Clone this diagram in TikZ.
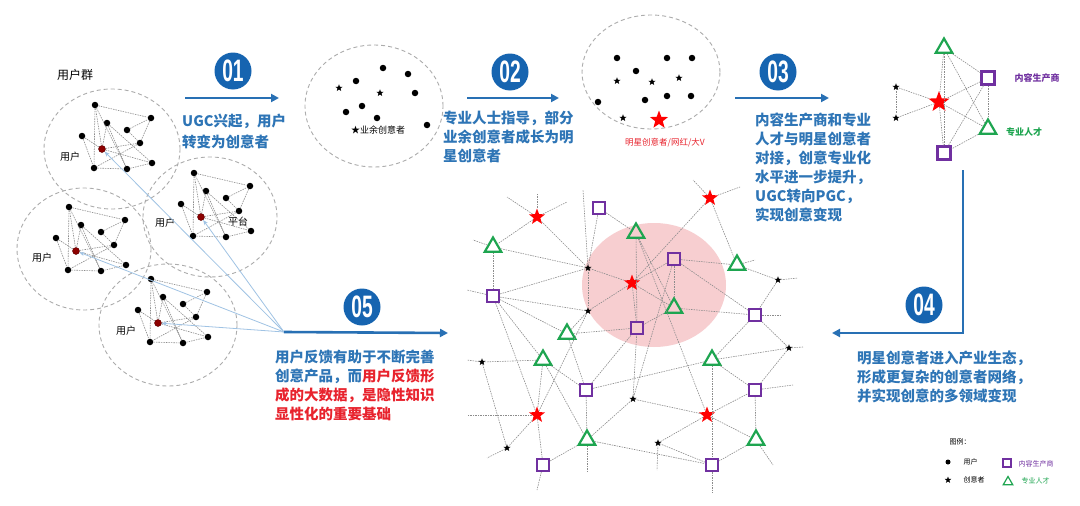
\documentclass[tikz,border=0pt]{standalone}
\usepackage{fontspec}
\setmainfont{Noto Sans CJK SC}
\newfontfamily\badgefont{Liberation Sans}
\usepackage{graphicx}
\usepackage{tikz}
\usetikzlibrary{shapes.geometric,arrows.meta}

\definecolor{txtblue}{RGB}{46,117,182}
\definecolor{badgeblue}{RGB}{22,100,176}
\definecolor{arrowblue}{RGB}{40,112,180}
\definecolor{alert}{RGB}{232,35,45}
\definecolor{makerc}{RGB}{112,48,160}
\definecolor{proc}{RGB}{30,165,80}
\definecolor{hubline}{RGB}{160,195,228}
\definecolor{blush}{RGB}{247,206,208}

\newcommand{\captxt}{\fontsize{14.5}{19}\selectfont\bfseries}

\tikzset{
  grp/.style={draw=gray!65, line width=0.9pt, dash pattern=on 4pt off 3pt},
  link/.style={draw=gray!90, line width=0.6pt, dash pattern=on 1.5pt off 1pt},
  udot/.style={circle, fill=black, inner sep=0, minimum size=6.5pt},
  hubdot/.style={circle, fill=red!55!black, draw=red!35!black, inner sep=0, minimum size=7pt},
  feed/.style={draw=hubline, line width=0.8pt, -{Stealth[length=5pt,width=4pt]}},
  tinystar/.style={star, star points=5, star point ratio=2.4, fill=black, inner sep=0, minimum size=7.5pt},
  redstar/.style={star, star points=5, star point ratio=2.4, fill=red, inner sep=0, minimum size=17pt},
  maker/.style={rectangle, draw=makerc, line width=2.2pt, inner sep=0, minimum size=12pt},
  pro/.style={regular polygon, regular polygon sides=3, draw=proc, line width=2.2pt, inner sep=0, minimum size=19pt},
  badge/.style={circle, fill=badgeblue, text=white, inner sep=0, minimum size=37pt,
    font=\badgefont\bfseries\fontsize{31}{31}\selectfont},
  stepline/.style={draw=arrowblue, line width=2.6pt, -{Triangle[length=8pt,width=8pt]}},
  steptext/.style={anchor=north west, inner sep=0, align=left, text=txtblue, font=\captxt},
  lbl/.style={font=\fontsize{10}{10}\selectfont, inner sep=1pt}
}

\newcommand{\usergroup}[3]{%
  \begin{scope}[shift={(#2,#3)}]
    \node[udot] (#1a) at (-7,-44) {};
    \node[udot] (#1b) at (49,-31) {};
    \node[udot] (#1c) at (5,-26) {};
    \node[udot] (#1d) at (25,-19) {};
    \node[udot] (#1e) at (-20,-13) {};
    \node[udot] (#1f) at (38,-6) {};
    \node[udot] (#1g) at (50,14) {};
    \node[udot] (#1h) at (-8,19) {};
    \node[udot] (#1i) at (25,20) {};
    \node[hubdot] (#1r) at (0,0) {};
  \end{scope}
  \foreach \p/\q in {a/b,a/r,a/h,a/i,c/r,c/i,d/b,e/r,e/h,f/r,f/h,r/g,g/i,h/i,d/f,c/g,b/f}
    \draw[link] (#1\p) -- (#1\q);
}

\begin{document}
\begin{tikzpicture}[x=1pt,y=-1pt]
\useasboundingbox[fill=white] (0,0) rectangle (1080,506);

% user groups
\node[font=\fontsize{12}{12}\selectfont] (title) at (75,75) {用户群};
\draw[grp] (112,149) ellipse [x radius=68pt, y radius=60pt];
\draw[grp] (210,217) ellipse [x radius=67pt, y radius=60pt];
\draw[grp] (84,249) ellipse [x radius=67pt, y radius=61pt];
\draw[grp] (168,325) ellipse [x radius=69pt, y radius=61pt];
\usergroup{ga}{102}{149}
\usergroup{gb}{201}{217}
\usergroup{gc}{76}{251}
\usergroup{gd}{158}{323}
\node[lbl] (la) at (70,157) {用户};
\node[lbl] (lb) at (165,223) {用户};
\node[lbl] (lp) at (238,222) {平台};
\node[lbl] (lc) at (42,258) {用户};
\node[lbl] (ld) at (126,331) {用户};
\coordinate (hub) at (284,332);
\foreach \g in {gar,gbr,gcr,gdr}
  \draw[feed] (hub) -- (\g);

% amateur creators
\draw[grp] (374,106) ellipse [x radius=69pt, y radius=61pt];
\foreach \x/\y [count=\i] in {383/68,408/74,356/81,415/93,362/106,346/112,377/118,427/125}
  \node[udot] (ad\i) at (\x,\y) {};
\node[tinystar] (as1) at (339,88) {};
\node[tinystar] (as2) at (380,93) {};
\node[font=\fontsize{9}{9}\selectfont] (alb) at (378,130) {★业余创意者};

% star creators
\draw[grp] (651,72) ellipse [x radius=69pt, y radius=57pt];
\foreach \x/\y [count=\i] in {617/58,667/58,692/58,636/71,598/102,645/100,667/96,691/96}
  \node[udot] (sd\i) at (\x,\y) {};
\foreach \x/\y [count=\i] in {617/81,652/82,679/78,623/118}
  \node[tinystar] (ss\i) at (\x,\y) {};
\node[redstar, minimum size=19pt] (sbig) at (659,120) {};
\node[font=\fontsize{8.5}{8.5}\selectfont, text=alert] (slb) at (665,143) {明星创意者/网红/大V};

% docking
\node[pro] (dt1) at (944,48) {};
\node[maker, minimum size=13pt] (dm1) at (988,78) {};
\node[tinystar] (dk1) at (896,87) {};
\node[tinystar] (dk2) at (896,118) {};
\node[redstar, minimum size=22pt] (dr) at (939,102) {};
\node[pro] (dt2) at (988,129) {};
\node[maker, minimum size=13pt] (dm2) at (944,153) {};
\foreach \p/\q in {dt1/dm1,dt1/dr,dt1/dt2,dt1/dm2,dm1/dr,dm1/dt2,dm1/dm2,dr/dk1,dr/dk2,dk1/dk2,dr/dt2,dt2/dm2,dr/dm2}
  \draw[link] (\p) -- (\q);
\node[font=\fontsize{9}{9}\selectfont\bfseries, text=makerc] (dml) at (1037,78) {内容生产商};
\node[font=\fontsize{9}{9}\selectfont\bfseries, text=proc] (dtl) at (1024,132) {专业人才};

% ecosystem
\fill[blush] (654,285) ellipse [x radius=72pt, y radius=62pt];
\foreach \x/\y [count=\i] in {537/217,710/198,632/283,537/415,707/415}
  \node[redstar] (r\i) at (\x,\y) {};
\foreach \x/\y [count=\i] in {599/208,674/259,493/296,755/315,637/328,586/390,755/390,543/465,712/465}
  \node[maker] (m\i) at (\x,\y) {};
\foreach \x/\y [count=\i] in {493/247,636/233,737/265,674/308,567/334,543/360,712/360,587/440,756/440}
  \node[pro] (p\i) at (\x,\y) {};
\foreach \x/\y [count=\i] in {588/268,588/311,778/280,482/362,789/348,633/399,507/448,658/443}
  \node[tinystar] (k\i) at (\x,\y) {};
\foreach \p/\q in {r1/p1,r1/k1,m1/p2,m1/k1,p1/k1,p1/m3,m3/k1,m3/k2,m3/p5,m3/r4,
    k1/r3,k1/k2,k2/r3,k2/p5,r3/r2,r3/p4,r3/m5,r3/m2,p2/m5,p2/p4,p2/r5,
    m2/p3,m2/p4,m2/m4,m2/k6,r2/p3,p3/k3,p4/m4,p4/m5,k3/m4,m4/k5,m4/p7,
    p5/m5,p5/m6,p6/k4,p6/r4,p6/m6,p6/p8,p6/m3,m6/p7,m6/p8,m6/m5,
    k4/k7,r4/k7,r4/m8,r4/k2,m8/p8,p8/k6,p8/m9,k6/r5,k6/m5,k8/r5,k8/m9,
    r5/m7,r5/p9,p7/m7,p7/m9,p7/k5,m7/p9,k5/m7,p9/m9}
  \draw[link] (\p) -- (\q);
\foreach \n/\x/\y [count=\i] in {r1/537/193,r1/507/197,r1/567/202,r2/693/180,r2/740/187,
    p1/473/240,m3/467/290,p3/755/260,k3/798/278,m4/780/315,k5/803/347,m7/793/385,
    k4/467/360,r4/467/415,k7/487/458,m8/537/490,p8/587/473,k8/657/470,m9/712/493,
    p9/773/465,k1/583/190}
  {\coordinate (e\i) at (\x,\y);
   \draw[link] (\n) -- (e\i);}

% legend
\node[font=\fontsize{7}{7}\selectfont, anchor=west] (lg) at (946,442) {图例：};
\node[udot, minimum size=5pt] (lg1) at (948,462) {};
\node[font=\fontsize{7}{7}\selectfont, anchor=west] (lg1t) at (960,462) {用户};
\node[tinystar, minimum size=7pt] (lg2) at (948,480) {};
\node[font=\fontsize{7}{7}\selectfont, anchor=west] (lg2t) at (960,480) {创意者};
\node[maker, minimum size=8pt, line width=1.2pt] (lg3) at (1007,463) {};
\node[font=\fontsize{7}{7}\selectfont, anchor=west, text=makerc] (lg3t) at (1015,464) {内容生产商};
\node[pro, minimum size=11pt, line width=1.2pt] (lg4) at (1008,482) {};
\node[font=\fontsize{7}{7}\selectfont, anchor=west, text=proc] (lg4t) at (1018,481) {专业人才};

% steps
\node[badge] (n1) at (233,71) {\scalebox{0.62}[1]{01}};
\node[badge] (n2) at (510,72) {\scalebox{0.62}[1]{02}};
\node[badge] (n3) at (778,72) {\scalebox{0.62}[1]{03}};
\node[badge] (n4) at (924,305) {\scalebox{0.62}[1]{04}};
\node[badge] (n5) at (362,307) {\scalebox{0.62}[1]{05}};
\coordinate (a1s) at (185,98);
\coordinate (a1e) at (279,98);
\coordinate (a2s) at (467,98);
\coordinate (a2e) at (559,98);
\coordinate (a3s) at (735,98);
\coordinate (a3e) at (829,98);
\coordinate (a4s) at (963,170);
\coordinate (a4e) at (832,333);
\coordinate (a5e) at (448,333);
\draw[stepline] (a1s) -- (a1e);
\draw[stepline] (a2s) -- (a2e);
\draw[stepline] (a3s) -- (a3e);
\draw[stepline] (a4s) |- (a4e);
\draw[stepline] (hub) -- (a5e);

\node[steptext, font=\fontsize{14.5}{21}\selectfont\bfseries] (t1) at (182,114) {UGC兴起，用户\\转变为创意者};
\node[steptext] (t2) at (443,111) {专业人士指导，部分\\业余创意者成长为明\\星创意者};
\node[steptext] (t3) at (755,113) {内容生产商和专业\\人才与明星创意者\\对接，创意专业化\\水平进一步提升，\\UGC转向PGC，\\实现创意变现};
\node[steptext] (t4) at (857,351) {明星创意者进入产业生态，\\形成更复杂的创意者网络，\\并实现创意的多领域变现};
\node[steptext] (t5) at (275,350) {用户反馈有助于不断完善\\创意产品，而\textcolor{alert}{用户反馈形}\\\textcolor{alert}{成的大数据，是隐性知识}\\\textcolor{alert}{显性化的重要基础}};
\end{tikzpicture}
\end{document}
